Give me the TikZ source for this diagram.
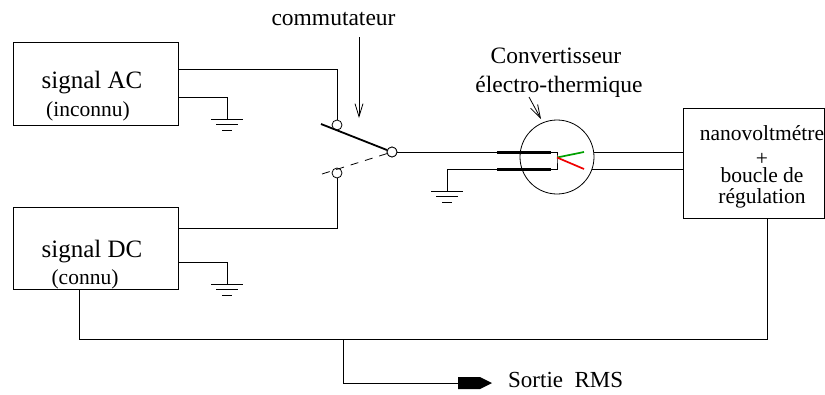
\documentclass[tikz,border=0pt]{standalone}
\usepackage{fontspec}
\setmainfont{Liberation Serif}
\usetikzlibrary{arrows.meta}
\definecolor{wgreen}{RGB}{0,160,0}
\definecolor{wred}{RGB}{240,0,0}
\begin{document}
\begin{tikzpicture}[x=1pt,y=-1pt,
  wire/.style={line width=0.8pt},
  box/.style={draw,line width=0.8pt,rectangle,inner sep=0pt},
  contact/.style={draw,circle,fill=white,line width=0.8pt,minimum size=10pt,inner sep=0pt},
  title/.style={font=\fontsize{25}{28}\selectfont,inner sep=0pt,anchor=base},
  sub/.style={font=\fontsize{21.5}{24}\selectfont,inner sep=0pt,anchor=base},
  lab/.style={font=\fontsize{23.5}{26}\selectfont,inner sep=0pt,anchor=base},
  nano/.style={font=\fontsize{21.5}{24}\selectfont,inner sep=0pt,anchor=base},
  bar/.style={line width=3pt},
  pointer/.style={line width=0.8pt,-{Straight Barb[length=13pt,width=8pt,line width=0.8pt]}},
  gndsym/.pic={
    \draw[line width=0.8pt] (-16,0) -- (16,0);
    \draw[line width=0.8pt] (-11,5.5) -- (11,5.5);
    \draw[line width=0.8pt] (-5,11) -- (5,11);
  }]
\useasboundingbox (0,0) rectangle (825,394);

% boxes
\node[box,minimum width=165pt,minimum height=83pt] (ac) at (95.5,83.5) {};
\node[box,minimum width=165pt,minimum height=82pt] (dc) at (95.5,248) {};
\node[box,minimum width=141pt,minimum height=110pt] (nv) at (753.5,163) {};

\node[title] (tac) at (92,88) {signal AC};
\node[sub] (tacs) at (88,116) {(inconnu)};
\node[title] (tdc) at (92,257) {signal DC};
\node[sub] (tdcs) at (85,284) {(connu)};

\node[nano] (n1) at (762,140) {nanovoltmétre};
\node[nano] (n2) at (762,165) {+};
\node[nano] (n3) at (762,182) {boucle de};
\node[nano] (n4) at (762,203) {régulation};

% switch
\node[contact] (c1) at (337,125) {};
\node[contact] (c2) at (337,173) {};
\node[contact] (c0) at (392,152) {};
\coordinate (lev1) at (321,124);
\coordinate (lev2) at (322,174);
\draw[line width=1.8pt] (lev1) -- (c0);
\draw[line width=0.8pt,dash pattern=on 8pt off 7pt] (lev2) -- (c0);
\node[contact] at (c0) {};

\node[lab] (tcom) at (333.5,25) {commutateur};
\coordinate (pcom1) at (359,37);
\coordinate (pcom2) at (359,118);
\draw[pointer] (pcom1) -- (pcom2);

% AC wiring
\coordinate (acout) at (178,69);
\coordinate (acgnd) at (178,97);
\coordinate (g1) at (227,119);
\draw[wire] (acout) -| (c1.north);
\draw[wire] (acgnd) -| (g1);
\pic at (g1) {gndsym};

% DC wiring
\coordinate (dcout) at (178,228);
\coordinate (dcgnd) at (178,262);
\coordinate (g2) at (227,284);
\draw[wire] (dcout) -| (c2.south);
\draw[wire] (dcgnd) -| (g2);
\pic at (g2) {gndsym};

% converter
\node[draw,circle,line width=0.8pt,minimum size=74pt,inner sep=0pt] (conv) at (557,157) {};
\coordinate (b1a) at (497,152);
\coordinate (b1b) at (551,152);
\coordinate (b2a) at (497,169);
\coordinate (b2b) at (551,169);
\coordinate (j) at (557,157.5);
\coordinate (gr) at (584,152);
\coordinate (rd) at (584,169);
\coordinate (o1) at (593.5,152);
\coordinate (o2) at (592,169);
\draw[wire] (c0.east) -- (b1a);
\draw[bar] (b1a) -- (b1b);
\draw[bar] (b2a) -- (b2b);
\draw[line width=0.6pt] (b1b) -| (j) |- (b2b);
\draw[wgreen,line width=1.7pt] (j) -- (gr);
\draw[wred,line width=1.7pt] (j) -- (rd);
\draw[wire] (o1) -- (nv.west |- o1);
\draw[wire] (o2) -- (nv.west |- o2);
\coordinate (g3) at (447,191);
\draw[wire] (b2a) -| (g3);
\pic at (g3) {gndsym};

\node[lab] (tcv1) at (556,63) {Convertisseur};
\node[lab] (tcv2) at (559,92) {électro-thermique};
\coordinate (pcv1) at (529,97);
\coordinate (pcv2) at (541,119);
\draw[pointer] (pcv1) -- (pcv2);

% feedback loop and output
\coordinate (dcb) at (79,289);
\coordinate (nvb) at (767,218);
\coordinate (loopL) at (79,339);
\coordinate (tap) at (343,339);
\coordinate (outc) at (343,383);
\coordinate (arr) at (458,383);
\draw[wire] (dcb) -- (loopL) -- (767,339) -- (nvb);
\draw[wire] (tap) -- (outc) -- (arr);
\fill (458,377) -- (480,377) -- (492,383) -- (480,389) -- (458,389) -- cycle;
\node[lab,anchor=base west,font=\fontsize{23}{26}\selectfont] (tout) at (508,387) {Sortie\ \ RMS};
\end{tikzpicture}
\end{document}
